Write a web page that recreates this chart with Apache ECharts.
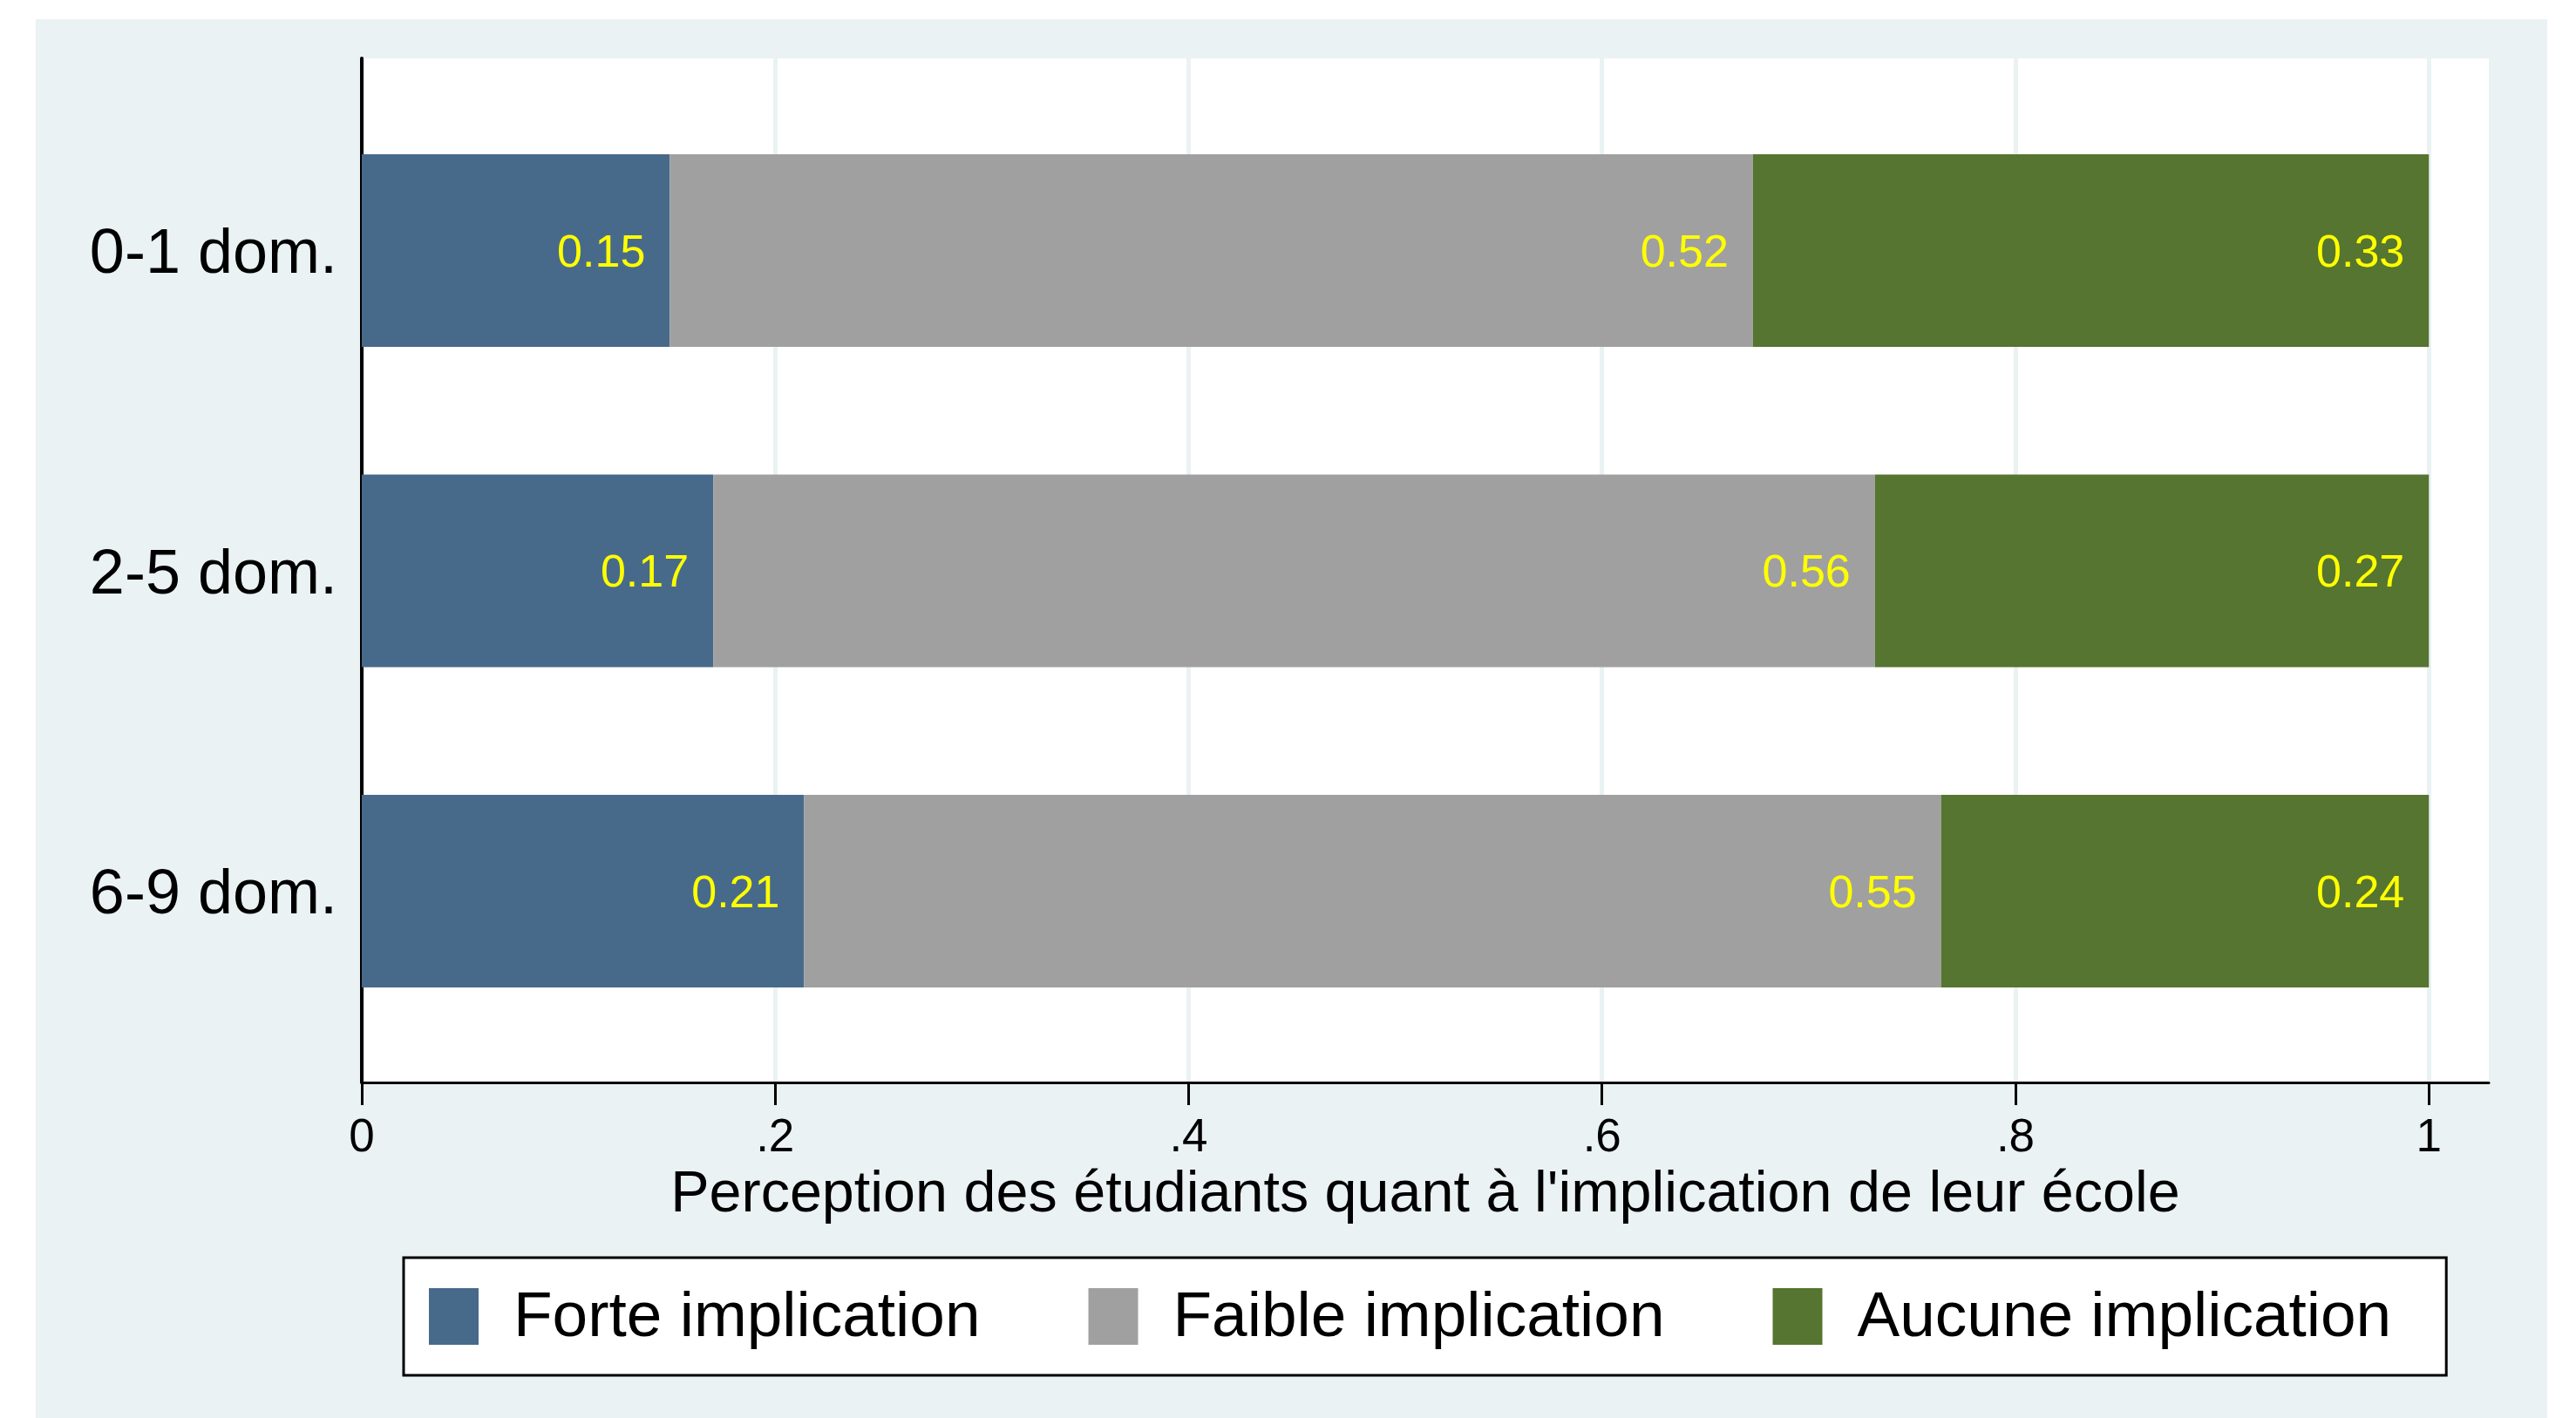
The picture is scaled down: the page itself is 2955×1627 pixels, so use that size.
<!DOCTYPE html>
<html>
<head>
<meta charset="utf-8">
<script src="https://cdn.jsdelivr.net/npm/echarts@6/dist/echarts.min.js"></script>
<style>
  html, body { margin: 0; padding: 0; background: #ffffff; }
  #chart { position: absolute; left: 41px; top: 22px; width: 2881px; height: 1605px; }
</style>
</head>
<body>
<div id="chart"></div>
<script>
// ---- data ----
const categories = ['0-1 dom.', '2-5 dom.', '6-9 dom.'];
const seriesNames = ['Forte implication', 'Faible implication', 'Aucune implication'];
const forte = [0.149, 0.170, 0.214];
const faible = [0.524, 0.562, 0.550];
const aucune = [0.327, 0.268, 0.236];
const xTicks = [0, 0.2, 0.4, 0.6, 0.8, 1];
const xTickLabels = ['0', '.2', '.4', '.6', '.8', '1'];
const axisTitle = "Perception des étudiants quant à l'implication de leur école";

const colors = ['#476A8B', '#A0A0A0', '#557530'];
const BG = '#EAF2F3';
const FONT = '"Liberation Sans", Arial, Helvetica, sans-serif';
const XMAX = 1.029;

const chart = echarts.init(document.getElementById('chart'), null, { renderer: 'canvas' });

function mkSeries(name, data, idx) {
  return {
    name: name,
    type: 'bar',
    stack: 'total',
    xAxisIndex: 1,
    yAxisIndex: 1,
    data: data,
    barWidth: 221,
    itemStyle: { color: colors[idx] },
    label: {
      show: true,
      position: 'insideRight',
      distance: 28,
      offset: [0, 4],
      color: '#FFFF00',
      fontSize: 52,
      fontFamily: FONT,
      formatter: p => Number(p.value).toFixed(2)
    },
    emphasis: { disabled: true },
    animation: false
  };
}

const option = {
  backgroundColor: BG,
  animation: false,
  textStyle: { fontFamily: FONT },
  color: colors,
  legend: {
    data: seriesNames,
    left: 422,
    top: 1421,
    orient: 'horizontal',
    icon: 'rect',
    itemWidth: 57,
    itemHeight: 65,
    itemGap: 124,
    padding: [29, 63, 29, 29],
    borderColor: '#000000',
    borderWidth: 3,
    backgroundColor: '#ffffff',
    selectedMode: false,
    formatter: name => '{t|' + name + '}',
    textStyle: {
      fontSize: 73, color: '#000000', fontFamily: FONT, lineHeight: 65,
      rich: { t: { fontSize: 73, color: '#000000', fontFamily: FONT, lineHeight: 65, padding: [4, 0, 0, 35] } }
    }
  },
  grid: [
    { left: 374, right: 67, top: 45, bottom: 385, show: true, backgroundColor: '#ffffff', borderWidth: 0 },
    { left: 374, right: 67, top: 81.75, bottom: 420.75 }
  ],
  xAxis: [
    {
      gridIndex: 0,
      type: 'value',
      min: 0,
      max: XMAX,
      interval: 0.2,
      axisLine: { show: true, lineStyle: { color: '#000000', width: 3 } },
      axisTick: { show: true, length: 26, lineStyle: { color: '#000000', width: 3 }, customValues: xTicks },
      axisLabel: {
        show: true, fontSize: 53, color: '#000000', margin: 38, fontFamily: FONT,
        customValues: xTicks,
        formatter: v => { const i = xTicks.findIndex(t => Math.abs(t - v) < 1e-9); return i >= 0 ? xTickLabels[i] : ''; }
      },
      splitLine: { show: true, lineStyle: { color: BG, width: 5 } },
      name: axisTitle,
      nameLocation: 'middle',
      nameGap: 94,
      nameTextStyle: { fontSize: 66.5, color: '#000000', fontFamily: FONT }
    },
    {
      gridIndex: 1,
      type: 'value',
      min: 0,
      max: XMAX,
      show: false
    }
  ],
  yAxis: [
    {
      gridIndex: 0,
      type: 'value',
      min: 0,
      max: 1,
      axisLine: { show: true, onZero: false, lineStyle: { color: '#000000', width: 4 } },
      axisTick: { show: false },
      axisLabel: { show: false },
      splitLine: { show: false }
    },
    {
      gridIndex: 1,
      type: 'category',
      data: categories,
      inverse: true,
      axisLine: { show: false },
      axisTick: { show: false },
      splitLine: { show: false },
      axisLabel: {
        show: true, fontSize: 72, color: '#000000', margin: 28, fontFamily: FONT,
        formatter: v => '{c|' + v + '}',
        rich: { c: { fontSize: 72, color: '#000000', fontFamily: FONT, padding: [12, 0, 0, 0] } }
      }
    }
  ],
  series: [
    mkSeries(seriesNames[0], forte, 0),
    mkSeries(seriesNames[1], faible, 1),
    mkSeries(seriesNames[2], aucune, 2)
  ]
};

chart.setOption(option);
</script>
</body>
</html>
